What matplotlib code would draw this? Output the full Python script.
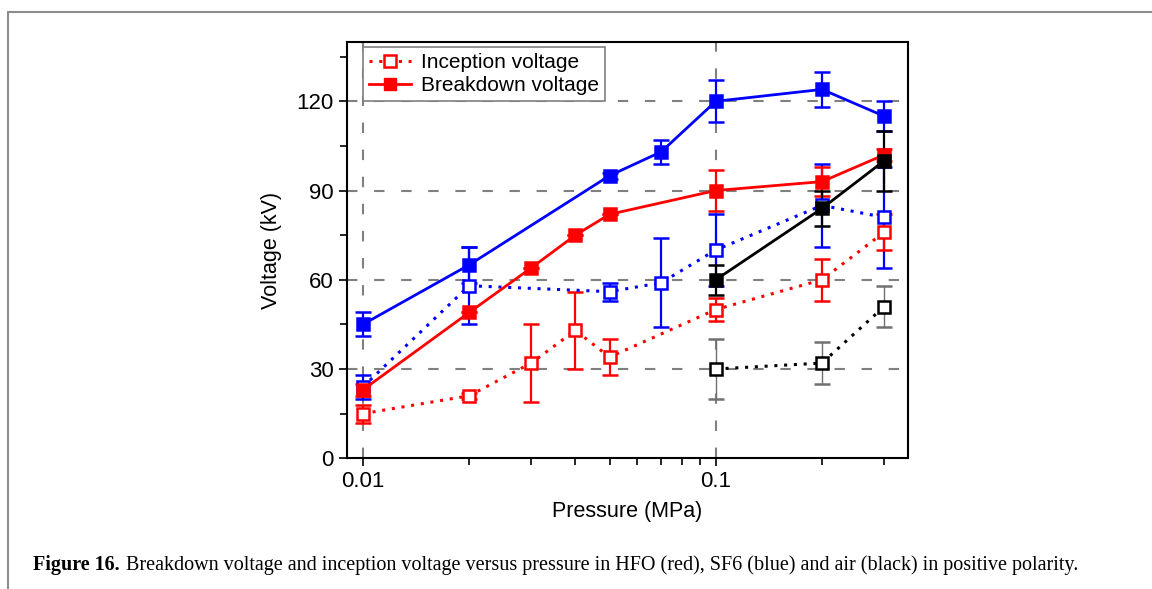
import numpy as np
import matplotlib.pyplot as plt
from matplotlib.ticker import FixedLocator, NullFormatter
from matplotlib.patches import Rectangle

# pressures (MPa)
p_hfo_bd = [0.01, 0.02, 0.03, 0.04, 0.05, 0.1, 0.2, 0.3]
v_hfo_bd = [23, 49, 64, 75, 82, 90, 93, 102]
e_hfo_bd = [2, 0, 0, 0, 0, 7, 5, 2]

p_hfo_in = [0.01, 0.02, 0.03, 0.04, 0.05, 0.1, 0.2, 0.3]
v_hfo_in = [15, 21, 32, 43, 34, 50, 60, 76]
e_hfo_in = [3, 1, 13, 13, 6, 4, 7, 6]

p_sf6_bd = [0.01, 0.02, 0.05, 0.07, 0.1, 0.2, 0.3]
v_sf6_bd = [45, 65, 95, 103, 120, 124, 115]
e_sf6_bd = [4, 6, 1, 4, 7, 6, 5]

p_sf6_in = [0.01, 0.02, 0.05, 0.07, 0.1, 0.2, 0.3]
v_sf6_in = [24, 58, 56, 59, 70, 85, 81]
e_sf6_in = [4, 13, 3, 15, 12, 14, 17]

p_air_bd = [0.1, 0.2, 0.3]
v_air_bd = [60, 84, 100]
e_air_bd = [5, 6, 10]

p_air_in = [0.1, 0.2, 0.3]
v_air_in = [30, 32, 51]
e_air_in = [10, 7, 7]

plt.rcParams['font.family'] = ['Liberation Sans', 'DejaVu Sans']

fig = plt.figure(figsize=(11.52, 5.89), dpi=100)
ax = fig.add_axes([0.301, 0.222, 0.487, 0.707])

# page frame
fig.patches.append(Rectangle((8 / 1152, -0.1), 1.2, 1 - 12 / 589 + 0.1,
                             transform=fig.transFigure, fill=False,
                             edgecolor='#8c8c8c', linewidth=1.5))

# dashed grid
for y in [30, 60, 90, 120]:
    ax.axhline(y, color='#808080', linestyle=(0, (5, 8)), linewidth=1.5, zorder=0)
for x in [0.01, 0.1]:
    ax.axvline(x, color='#808080', linestyle=(0, (5, 8)), linewidth=1.5, zorder=0)

ms = 8.5

def series(p, v, e, color, filled, ls, lw, ecolor=None, elw=1.6):
    mfc = color if filled else 'white'
    ax.errorbar(p, v, yerr=e, color=color, ecolor=ecolor or color,
                linestyle=ls, linewidth=lw, marker='s', markerfacecolor=mfc,
                markeredgecolor=color, markeredgewidth=1.8, markersize=ms,
                capsize=6, elinewidth=elw, capthick=elw, zorder=3)

dot = (0, (1, 2.2))
series(p_sf6_bd, v_sf6_bd, e_sf6_bd, '#0000ff', True, '-', 2.0)
series(p_sf6_in, v_sf6_in, e_sf6_in, '#0000ff', False, dot, 2.2)
series(p_hfo_bd, v_hfo_bd, e_hfo_bd, '#ff0000', True, '-', 2.0)
series(p_hfo_in, v_hfo_in, e_hfo_in, '#ff0000', False, dot, 2.2)
series(p_air_bd, v_air_bd, e_air_bd, 'black', True, '-', 2.0)
series(p_air_in, v_air_in, e_air_in, 'black', False, dot, 2.2,
       ecolor='#707070', elw=1.0)

ax.set_xscale('log')
ax.set_xlim(0.009, 0.35)
ax.set_ylim(0, 140)
ax.xaxis.set_major_locator(FixedLocator([0.01, 0.1]))
ax.xaxis.set_minor_locator(FixedLocator([0.02, 0.03, 0.04, 0.05, 0.06, 0.07,
                                         0.08, 0.09, 0.2, 0.3]))
ax.xaxis.set_minor_formatter(NullFormatter())
ax.set_xticklabels(['0.01', '0.1'])
ax.set_yticks([0, 30, 60, 90, 120])
ax.set_yticks([15, 45, 75, 105, 135], minor=True)
ax.tick_params(which='both', direction='out', labelsize=16, width=1.2)
ax.tick_params(which='major', length=6)
ax.tick_params(which='minor', length=5)
for s in ax.spines.values():
    s.set_linewidth(1.5)

ax.set_xlabel('Pressure (MPa)', fontsize=15.5, labelpad=6)
ax.set_ylabel('Voltage (kV)', fontsize=15.5, labelpad=10)

# legend
h1, = ax.plot([], [], color='#ff0000', linestyle=dot, linewidth=2.2, marker='s',
              markerfacecolor='white', markeredgecolor='#ff0000',
              markeredgewidth=1.8, markersize=ms)
h2, = ax.plot([], [], color='#ff0000', linestyle='-', linewidth=2.0, marker='s',
              markersize=ms)
leg = ax.legend([h1, h2], ['Inception voltage', 'Breakdown voltage'],
                loc='upper left', bbox_to_anchor=(0.022, 0.997), fontsize=15,
                fancybox=False, edgecolor='#808080', framealpha=1,
                handlelength=2.0, borderpad=0.28, labelspacing=0.2,
                handletextpad=0.5, borderaxespad=0.2)
leg.get_frame().set_linewidth(1.2)

# caption
fig.text(33 / 1152, 1 - 565 / 589, 'Figure 16.', fontsize=14.5, fontweight='bold',
         family='Liberation Serif', va='center', ha='left')
fig.text(126 / 1152, 1 - 565 / 589,
         'Breakdown voltage and inception voltage versus pressure in HFO (red), '
         'SF6 (blue) and air (black) in positive polarity.',
         fontsize=14.5, family='Liberation Serif', va='center', ha='left')

fig.savefig('out.png', dpi=100)
